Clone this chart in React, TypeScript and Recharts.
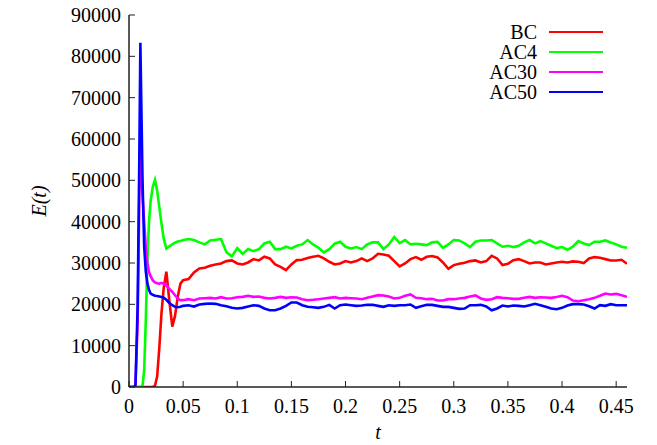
import { LineChart, Line, XAxis, YAxis, Legend, Label } from "recharts";

// sample times: fine steps through the start-up transient, then every 0.005
const T = [
  0, 0.005, 0.006, 0.008, 0.0095, 0.0105, 0.0125, 0.014, 0.0155, 0.017, 0.0185, 0.02,
  0.022, 0.024, 0.026, 0.028, 0.03, 0.032, 0.0345, 0.037, 0.04, 0.0425, 0.045, 0.0475,
  0.05, 0.055, 0.06, 0.065, 0.07, 0.075, 0.08, 0.085, 0.09, 0.095,
  0.1, 0.105, 0.11, 0.115, 0.12, 0.125, 0.13, 0.135, 0.14, 0.145,
  0.15, 0.155, 0.16, 0.165, 0.17, 0.175, 0.18, 0.185, 0.19, 0.195,
  0.2, 0.205, 0.21, 0.215, 0.22, 0.225, 0.23, 0.235, 0.24, 0.245,
  0.25, 0.255, 0.26, 0.265, 0.27, 0.275, 0.28, 0.285, 0.29, 0.295,
  0.3, 0.305, 0.31, 0.315, 0.32, 0.325, 0.33, 0.335, 0.34, 0.345,
  0.35, 0.355, 0.36, 0.365, 0.37, 0.375, 0.38, 0.385, 0.39, 0.395,
  0.4, 0.405, 0.41, 0.415, 0.42, 0.425, 0.43, 0.435, 0.44, 0.445,
  0.45, 0.455, 0.46,
];

const BC = [
  0, 0, 0, 0, 0, 0, 0, 0, 0, 0, 0, 0,
  0, 300, 2500, 9500, 17800, 23800, 27900, 21500, 14600, 17200, 21800, 25000,
  25850, 26100, 27710, 28680, 28840, 29330, 29650, 29890, 30460, 30620,
  29890, 29650, 30130, 30940, 30620, 31510, 31100, 29650, 29080, 28280,
  29650, 30700, 30780, 31200, 31510, 31750, 31100, 30300, 29650, 29890,
  30460, 30130, 30460, 31100, 30460, 31100, 32230, 32070, 31750, 30460,
  29160, 29890, 30940, 31430, 30780, 31510, 31700, 31350, 30130, 28600,
  29490, 29810, 30050, 30460, 30620, 30130, 30460, 31750, 31100, 29490,
  29810, 30700, 30940, 30460, 29890, 30130, 30130, 29650, 29890, 30130,
  30300, 30130, 30380, 30300, 29970, 31100, 31430, 31260, 30940, 30620,
  30620, 30780, 29810,
];

const AC4 = [
  0, 0, 0, 0, 0, 0, 300, 4000, 16000, 31000, 40000, 45000,
  48500, 50100, 47500, 43500, 39600, 36000, 33500, 34000, 34500, 34900, 35200, 35300,
  35550, 35790, 35550, 34980, 34500, 35460, 35630, 35790, 32600, 31600,
  33600, 32200, 33360, 32880, 33360, 34740, 35140, 33360, 33360, 33930,
  33530, 34170, 34500, 35550, 34500, 33690, 32560, 33360, 34660, 35140,
  33930, 33530, 33850, 33360, 34500, 34980, 34980, 33360, 34500, 36270,
  34820, 35550, 34500, 34660, 34500, 34330, 35000, 35140, 33690, 34500,
  35550, 35460, 34740, 33850, 35140, 35460, 35460, 35550, 34740, 33930,
  34170, 33850, 34170, 34980, 35550, 34740, 35300, 34740, 34170, 33600,
  33850, 33200, 33930, 35300, 34740, 34330, 35140, 35140, 35460, 34980,
  34500, 33930, 33690,
];

const AC30 = [
  0, 0, 400, 16000, 45000, 60000, 46000, 40000, 34000, 30000, 27800, 26800,
  25800, 25300, 25100, 25000, 25200, 25000, 24600, 23800, 23000, 22200, 21400, 21000,
  21010, 21250, 21010, 21410, 21490, 21570, 21410, 21730, 21410, 21490,
  21730, 21810, 22060, 21810, 21890, 21570, 21410, 21570, 21810, 21570,
  21730, 21650, 21250, 21000, 21090, 21250, 21410, 21570, 21730, 21410,
  21570, 21490, 21410, 21250, 21570, 21890, 22220, 22140, 21890, 21410,
  21570, 22060, 22380, 21570, 21490, 21250, 21330, 20930, 20930, 21250,
  21250, 21410, 21570, 21890, 22140, 21410, 21090, 21250, 21730, 21570,
  21490, 21330, 21330, 21570, 21810, 21570, 21730, 21650, 21570, 21770,
  22060, 21730, 20930, 20760, 21010, 21250, 21570, 22060, 22620, 22380,
  22540, 22220, 21810,
];

const AC50 = [
  0, 0, 600, 20000, 55000, 83300, 50000, 34000, 28000, 25000, 23500, 22600,
  22300, 22100, 22000, 21900, 21800, 21600, 21100, 20400, 19800, 19400, 19300, 19400,
  19630, 19790, 19470, 19960, 20120, 20200, 20120, 19790, 19550, 19150,
  18990, 19150, 19470, 19790, 19630, 18990, 18580, 18580, 18990, 19630,
  20440, 20440, 19790, 19400, 19310, 19150, 19390, 19880, 18990, 19790,
  19960, 19790, 19630, 19710, 19880, 19880, 19630, 19390, 19790, 19630,
  19790, 19790, 19960, 19150, 19550, 19880, 19870, 19630, 19390, 19390,
  19150, 18910, 18990, 19790, 19790, 19880, 19470, 18580, 18990, 19710,
  19470, 19710, 19630, 19470, 19790, 20120, 19790, 19390, 18990, 18830,
  19150, 19710, 20040, 20040, 19960, 19550, 18990, 19790, 19630, 20040,
  19790, 19790, 19790,
];

const X_TICKS = [0, 0.05, 0.1, 0.15, 0.2, 0.25, 0.3, 0.35, 0.4, 0.45];
const Y_TICKS = [0, 10000, 20000, 30000, 40000, 50000, 60000, 70000, 80000, 90000];

const SERIES = [
  { key: "BC", color: "#ff0000" },
  { key: "AC4", color: "#00ff00" },
  { key: "AC30", color: "#ff00ff" },
  { key: "AC50", color: "#0000ff" },
];

const data = T.map((t, i) => ({ t, BC: BC[i], AC4: AC4[i], AC30: AC30[i], AC50: AC50[i] }));

const FONT = '"Liberation Serif", "Times New Roman", serif';
const AXIS = "#222";
const tickStyle = { fontSize: 20, fill: "#000", fontFamily: FONT };
const blank = () => "";

function KeyBox() {
  return (
    <div style={{ fontFamily: FONT, fontSize: 20, color: "#000" }}>
      {SERIES.map((s) => (
        <div key={s.key} style={{ display: "flex", alignItems: "center", height: 20 }}>
          <span style={{ width: 97, textAlign: "right", lineHeight: "20px" }}>{s.key}</span>
          <span style={{ marginLeft: 12, width: 54, height: 2.5, background: s.color }} />
        </div>
      ))}
    </div>
  );
}

export default function App() {
  return (
    <div
      style={{
        position: "absolute",
        left: 0,
        top: 0,
        width: 657,
        height: 445,
        background: "#fff",
        fontFamily: FONT,
      }}
    >
      <LineChart width={657} height={445} data={data} margin={{ top: 15, right: 30, left: 0, bottom: 0 }}>
        <XAxis
          dataKey="t"
          type="number"
          domain={[0, 0.46]}
          ticks={X_TICKS}
          allowDataOverflow
          height={58}
          tickSize={-6}
          tickMargin={18}
          tick={tickStyle}
          tickFormatter={(v: number) => String(v)}
          axisLine={{ stroke: AXIS, strokeWidth: 1.5 }}
          tickLine={{ stroke: AXIS, strokeWidth: 1 }}
        >
          <Label
            content={({ viewBox }: any) => (
              <text
                x={viewBox.x + viewBox.width / 2}
                y={439}
                textAnchor="middle"
                fontFamily={FONT}
                fontSize={20}
                fontStyle="italic"
                fill="#000"
              >
                t
              </text>
            )}
          />
        </XAxis>
        <XAxis
          xAxisId="top"
          orientation="top"
          dataKey="t"
          type="number"
          domain={[0, 0.46]}
          ticks={X_TICKS}
          allowDataOverflow
          height={0}
          tickSize={-6}
          tickFormatter={blank}
          axisLine={{ stroke: AXIS, strokeWidth: 1.5 }}
          tickLine={{ stroke: AXIS, strokeWidth: 1 }}
        />
        <YAxis
          type="number"
          domain={[0, 90000]}
          ticks={Y_TICKS}
          allowDataOverflow
          width={129}
          tickSize={-6}
          tickMargin={14}
          tick={tickStyle}
          axisLine={{ stroke: AXIS, strokeWidth: 1.5 }}
          tickLine={{ stroke: AXIS, strokeWidth: 1 }}
        >
          <Label
            content={({ viewBox }: any) => {
              const cy = viewBox.y + viewBox.height / 2;
              return (
                <text
                  x={39}
                  y={cy}
                  transform={`rotate(-90 39 ${cy})`}
                  textAnchor="middle"
                  dominantBaseline="central"
                  fontFamily={FONT}
                  fontSize={20}
                  fontStyle="italic"
                  fill="#000"
                >
                  E(t)
                </text>
              );
            }}
          />
        </YAxis>
        <YAxis
          yAxisId="right"
          orientation="right"
          type="number"
          domain={[0, 90000]}
          ticks={Y_TICKS}
          allowDataOverflow
          width={0}
          tickSize={-6}
          tickFormatter={blank}
          axisLine={{ stroke: AXIS, strokeWidth: 1.5 }}
          tickLine={{ stroke: AXIS, strokeWidth: 1 }}
        />
        {SERIES.map((s) => (
          <Line
            key={s.key}
            type="linear"
            dataKey={s.key}
            stroke={s.color}
            strokeWidth={2.6}
            dot={false}
            isAnimationActive={false}
          />
        ))}
        <Legend
          layout="vertical"
          align="center"
          verticalAlign="middle"
          content={() => <KeyBox />}
          wrapperStyle={{ left: 440, top: 22, width: 170, height: 80 }}
        />
      </LineChart>
    </div>
  );
}
